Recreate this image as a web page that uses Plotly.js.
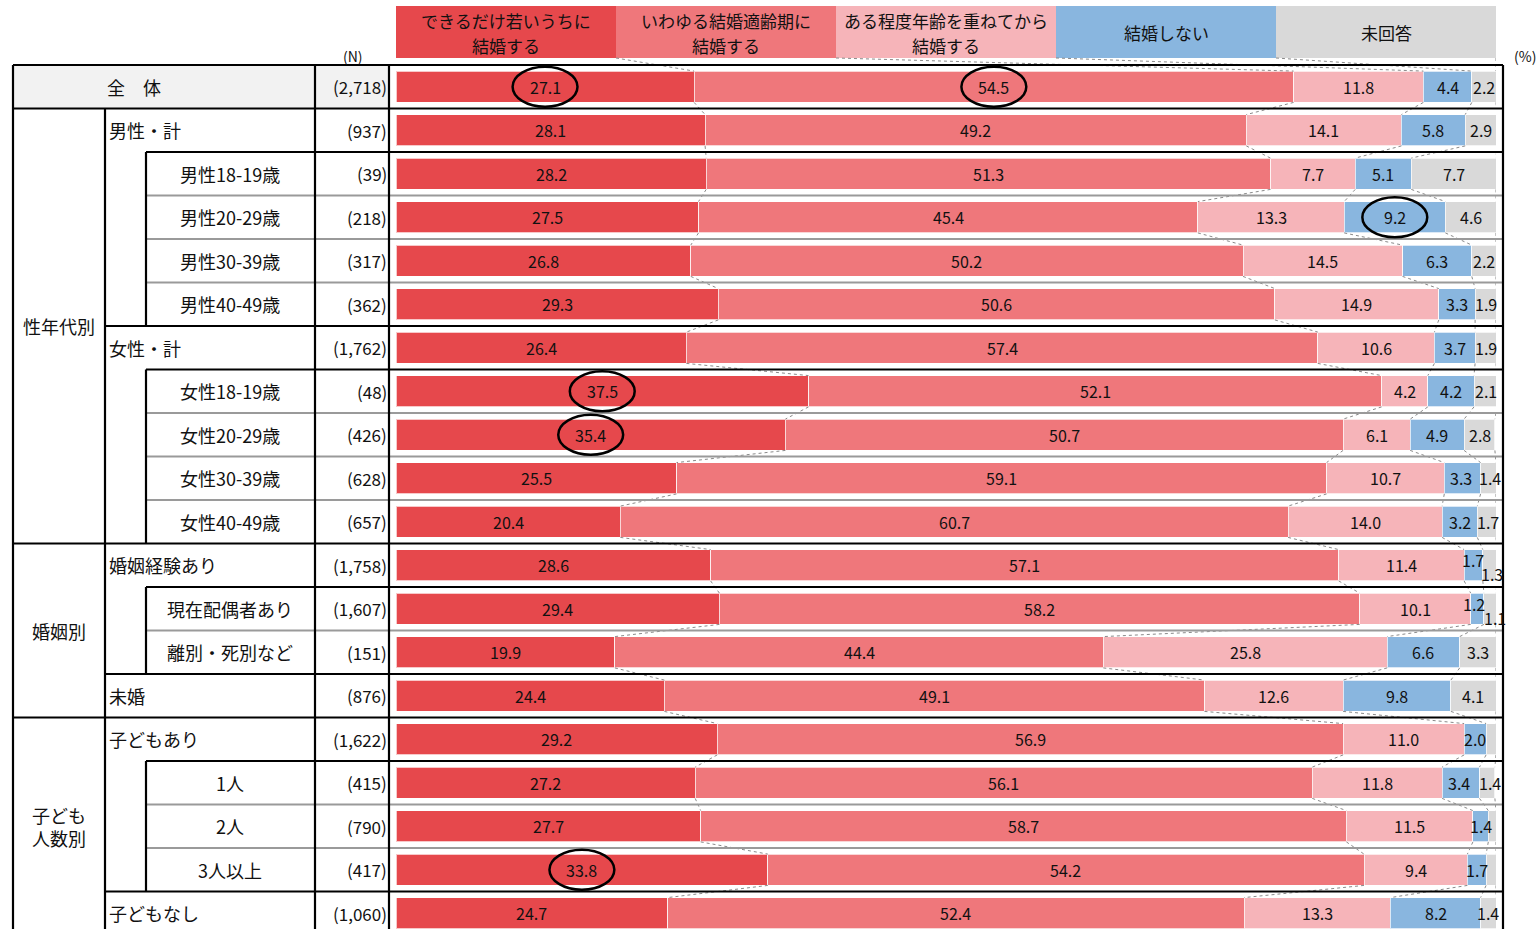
<!DOCTYPE html>
<html><head><meta charset="utf-8">
<script src="https://cdn.plot.ly/plotly-3.0.1.min.js"></script>
<style>html,body{margin:0;padding:0;background:#fff}#chart{width:1539px;height:929px}</style>
</head><body><div id="chart"></div>
<script>
// ---------------- DATA ----------------
const seriesNames = ['できるだけ若いうちに<br>結婚する','いわゆる結婚適齢期に<br>結婚する','ある程度年齢を重ねてから<br>結婚する','結婚しない','未回答'];
const rowLabels = ['全　体','男性・計','男性18-19歳','男性20-29歳','男性30-39歳','男性40-49歳',
  '女性・計','女性18-19歳','女性20-29歳','女性30-39歳','女性40-49歳',
  '婚姻経験あり','現在配偶者あり','離別・死別など','未婚',
  '子どもあり','1人','2人','3人以上','子どもなし'];
const rowLevels = [0,1,2,2,2,2,1,2,2,2,2,1,2,2,1,1,2,2,2,1];
const nLabels = ['(2,718)','(937)','(39)','(218)','(317)','(362)','(1,762)','(48)','(426)','(628)','(657)',
  '(1,758)','(1,607)','(151)','(876)','(1,622)','(415)','(790)','(417)','(1,060)'];
const groupLabels = ['性年代別','婚姻別','子ども<br>人数別'];
const groupFirstRow = [1,11,15];
const groupLastRow = [10,14,19];

const early    = [27.1,28.1,28.2,27.5,26.8,29.3,26.4,37.5,35.4,25.5,20.4,28.6,29.4,19.9,24.4,29.2,27.2,27.7,33.8,24.7];
const proper   = [54.5,49.2,51.3,45.4,50.2,50.6,57.4,52.1,50.7,59.1,60.7,57.1,58.2,44.4,49.1,56.9,56.1,58.7,54.2,52.4];
const later    = [11.8,14.1,7.7,13.3,14.5,14.9,10.6,4.2,6.1,10.7,14.0,11.4,10.1,25.8,12.6,11.0,11.8,11.5,9.4,13.3];
const never    = [4.4,5.8,5.1,9.2,6.3,3.3,3.7,4.2,4.9,3.3,3.2,1.7,1.2,6.6,9.8,2.0,3.4,1.4,1.7,8.2];
const noAnswer = [2.2,2.9,7.7,4.6,2.2,1.9,1.9,2.1,2.8,1.4,1.7,1.3,1.1,3.3,4.1,0.9,1.4,0.7,0.9,1.4];

// cells (row, series) without a printed value
const unlabeledCells = [[15,4],[17,4],[18,4]];
// circled cells (row, series)
const circledCells = [[0,0],[0,1],[3,3],[7,0],[8,0],[18,0]];

// ---------------- STYLE / GEOMETRY ----------------
const W = 1539, H = 929;
const colors = ['#E6484C','#EF777B','#F6B4B9','#89B6DF','#D9D9D9'];
const FONT = '"Noto Sans CJK JP", "Noto Sans", sans-serif';
const rowTop = 65, rowH = 43.5;
const yTopVal = -0.5 - rowTop/rowH;
const yBotVal = -0.5 + (H-rowTop)/rowH;
const pyToY = p => yTopVal + p/rowH;
const px = p => p/W;
const barWidth = 0.72;
// manual label shifts (px) for crowded cells, keyed "row,series"
const labelShift = {'11,3':[0,5],'11,4':[2,-9],'12,3':[-3,5],'12,4':[5,-9],
  '9,3':[-1,0],'9,4':[2,0],'10,4':[1,0],'16,3':[-2,0],'16,4':[3,0]};

const series = [early, proper, later, never, noAnswer];
const nRows = rowLabels.length;
const yIdx = rowLabels.map((_,i)=>i);
const isIn = (list,r,s)=>list.some(c=>c[0]===r&&c[1]===s);

const traces = series.map((vals,s)=>({
  type:'bar', orientation:'h', y:yIdx, x:vals, name:seriesNames[s].replace('<br>',''),
  width:barWidth,
  marker:{color:colors[s], line:{color:'rgba(255,255,255,0.7)', width:1}},
  textposition:'none',
  hoverinfo:'x+name', showlegend:false
}));

// cumulative boundaries
const cum = yIdx.map(r=>{let c=0; return series.map(v=>{c+=v[r]; return c;});});

// series (connector) lines
const connX = [], connY = [];
const headerBottom = pyToY(58);
for (let k=0;k<5;k++){
  connX.push((k+1)*20, cum[0][k], null);
  connY.push(headerBottom, -barWidth/2, null);
}
for (let r=0;r<nRows-1;r++){
  for (let k=0;k<5;k++){
    connX.push(cum[r][k], cum[r+1][k], null);
    connY.push(r+barWidth/2, r+1-barWidth/2, null);
  }
}
traces.push({type:'scatter', mode:'lines', x:connX, y:connY, line:{color:'#8a8a8a', width:1, dash:'dot'},
  hoverinfo:'skip', showlegend:false, cliponaxis:false});

const shapes = [];
const annotations = [];
const line = (x0,y0,x1,y1,color,w)=>shapes.push({type:'line', xref:'paper', yref:'y', x0:px(x0), x1:px(x1), y0, y1, line:{color, width:w}, layer:'above'});

// header legend boxes
series.forEach((_,s)=>{
  shapes.push({type:'rect', xref:'x', yref:'y', x0:s*20, x1:(s+1)*20, y0:pyToY(6), y1:pyToY(58), fillcolor:colors[s], line:{width:0}, layer:'below'});
  const parts = seriesNames[s].split('<br>');
  const ys = parts.length===2 ? [20,45] : [32];
  parts.forEach((t,i)=>annotations.push({xref:'x', yref:'y', x:s*20+10, y:pyToY(ys[i]), text:t, showarrow:false,
    font:{family:FONT, size:17, color:'#111'}, align:'center'}));
});

// whole-row background
shapes.push({type:'rect', xref:'paper', yref:'y', x0:px(13), x1:px(389), y0:-0.5, y1:0.5, fillcolor:'#F2F2F2', line:{width:0}, layer:'below'});

// horizontal table lines
const BLACK = '#000', GRAY = '#9a9a9a';
line(13,-0.5,1503,-0.5,BLACK,2.2);
for (let r=0;r<nRows-1;r++){
  const y = r+0.5;
  const next = r+1;
  if (rowLevels[next]===0 || groupFirstRow.includes(next)) line(13,y,1503,y,BLACK,2.2);
  else if (rowLevels[next]===1) line(105,y,1503,y,BLACK,2.2);
  else if (rowLevels[r]===1) line(146,y,1503,y,BLACK,2.2);
  else line(146,y,1503,y,GRAY,2);
}
// vertical table lines
const yEnd = yBotVal+1;
[13,315,389,1503].forEach(x=>line(x,-0.5,x,yEnd,BLACK,2.2));
line(105,0.5,105,yEnd,BLACK,2.2);
let runStart = null;
for (let r=0;r<=nRows;r++){
  if (r<nRows && rowLevels[r]===2){ if (runStart===null) runStart=r; }
  else if (runStart!==null){ line(146,runStart-0.5,146,r-0.5,BLACK,2.2); runStart=null; }
}

// row labels
const LF = {family:FONT,size:18,color:'#111'};
rowLabels.forEach((lab,r)=>{
  const lv = rowLevels[r];
  if (lv===0) annotations.push({xref:'paper', yref:'y', x:px(134), y:r, text:lab, showarrow:false, xanchor:'center', font:LF});
  else if (lv===1) annotations.push({xref:'paper', yref:'y', x:px(107), y:r, text:lab, showarrow:false, xanchor:'left', font:LF});
  else annotations.push({xref:'paper', yref:'y', x:px(230), y:r, text:lab, showarrow:false, xanchor:'center', font:LF});
  annotations.push({xref:'paper', yref:'y', x:px(389), y:r, text:nLabels[r], showarrow:false, xanchor:'right', font:{family:FONT,size:17,color:'#111'}});
});
groupLabels.forEach((g,i)=>{
  annotations.push({xref:'paper', yref:'y', x:px(59), y:(groupFirstRow[i]+groupLastRow[i])/2, text:g, showarrow:false,
    xanchor:'center', align:'center', font:LF});
});
annotations.push({xref:'paper', yref:'y', x:px(341), y:pyToY(56), text:'(N)', showarrow:false, xanchor:'left', font:{family:FONT,size:14,color:'#111'}});
annotations.push({xref:'paper', yref:'y', x:px(1512), y:pyToY(56), text:'(%)', showarrow:false, xanchor:'left', font:{family:FONT,size:14,color:'#111'}});

// value labels
series.forEach((vals,s)=>{
  vals.forEach((v,r)=>{
    if (isIn(unlabeledCells,r,s)) return;
    const start = s===0?0:cum[r][s-1];
    const sh = labelShift[r+','+s] || [0,0];
    annotations.push({xref:'x', yref:'y', x:(start+cum[r][s])/2, y:r, text:v.toFixed(1), showarrow:false,
      xshift:sh[0], yshift:sh[1], font:{family:FONT,size:16,color:'#111'}});
  });
});

// circles
circledCells.forEach(([r,s])=>{
  const start = s===0?0:cum[r][s-1];
  const c = (start+cum[r][s])/2;
  shapes.push({type:'circle', xref:'x', yref:'y', x0:c-2.95, x1:c+2.95, y0:r-0.46, y1:r+0.46, line:{color:'#000', width:2.5}, layer:'above'});
});

const layout = {
  width:W, height:H, margin:{l:0,r:0,t:0,b:0,pad:0},
  paper_bgcolor:'#fff', plot_bgcolor:'rgba(0,0,0,0)',
  barmode:'stack', showlegend:false,
  xaxis:{domain:[px(396),px(1496)], range:[0,100], visible:false, fixedrange:true},
  yaxis:{range:[yBotVal,yTopVal], visible:false, fixedrange:true},
  shapes, annotations,
  font:{family:FONT}
};
Plotly.newPlot('chart', traces, layout, {displayModeBar:false, staticPlot:true});
</script></body></html>
